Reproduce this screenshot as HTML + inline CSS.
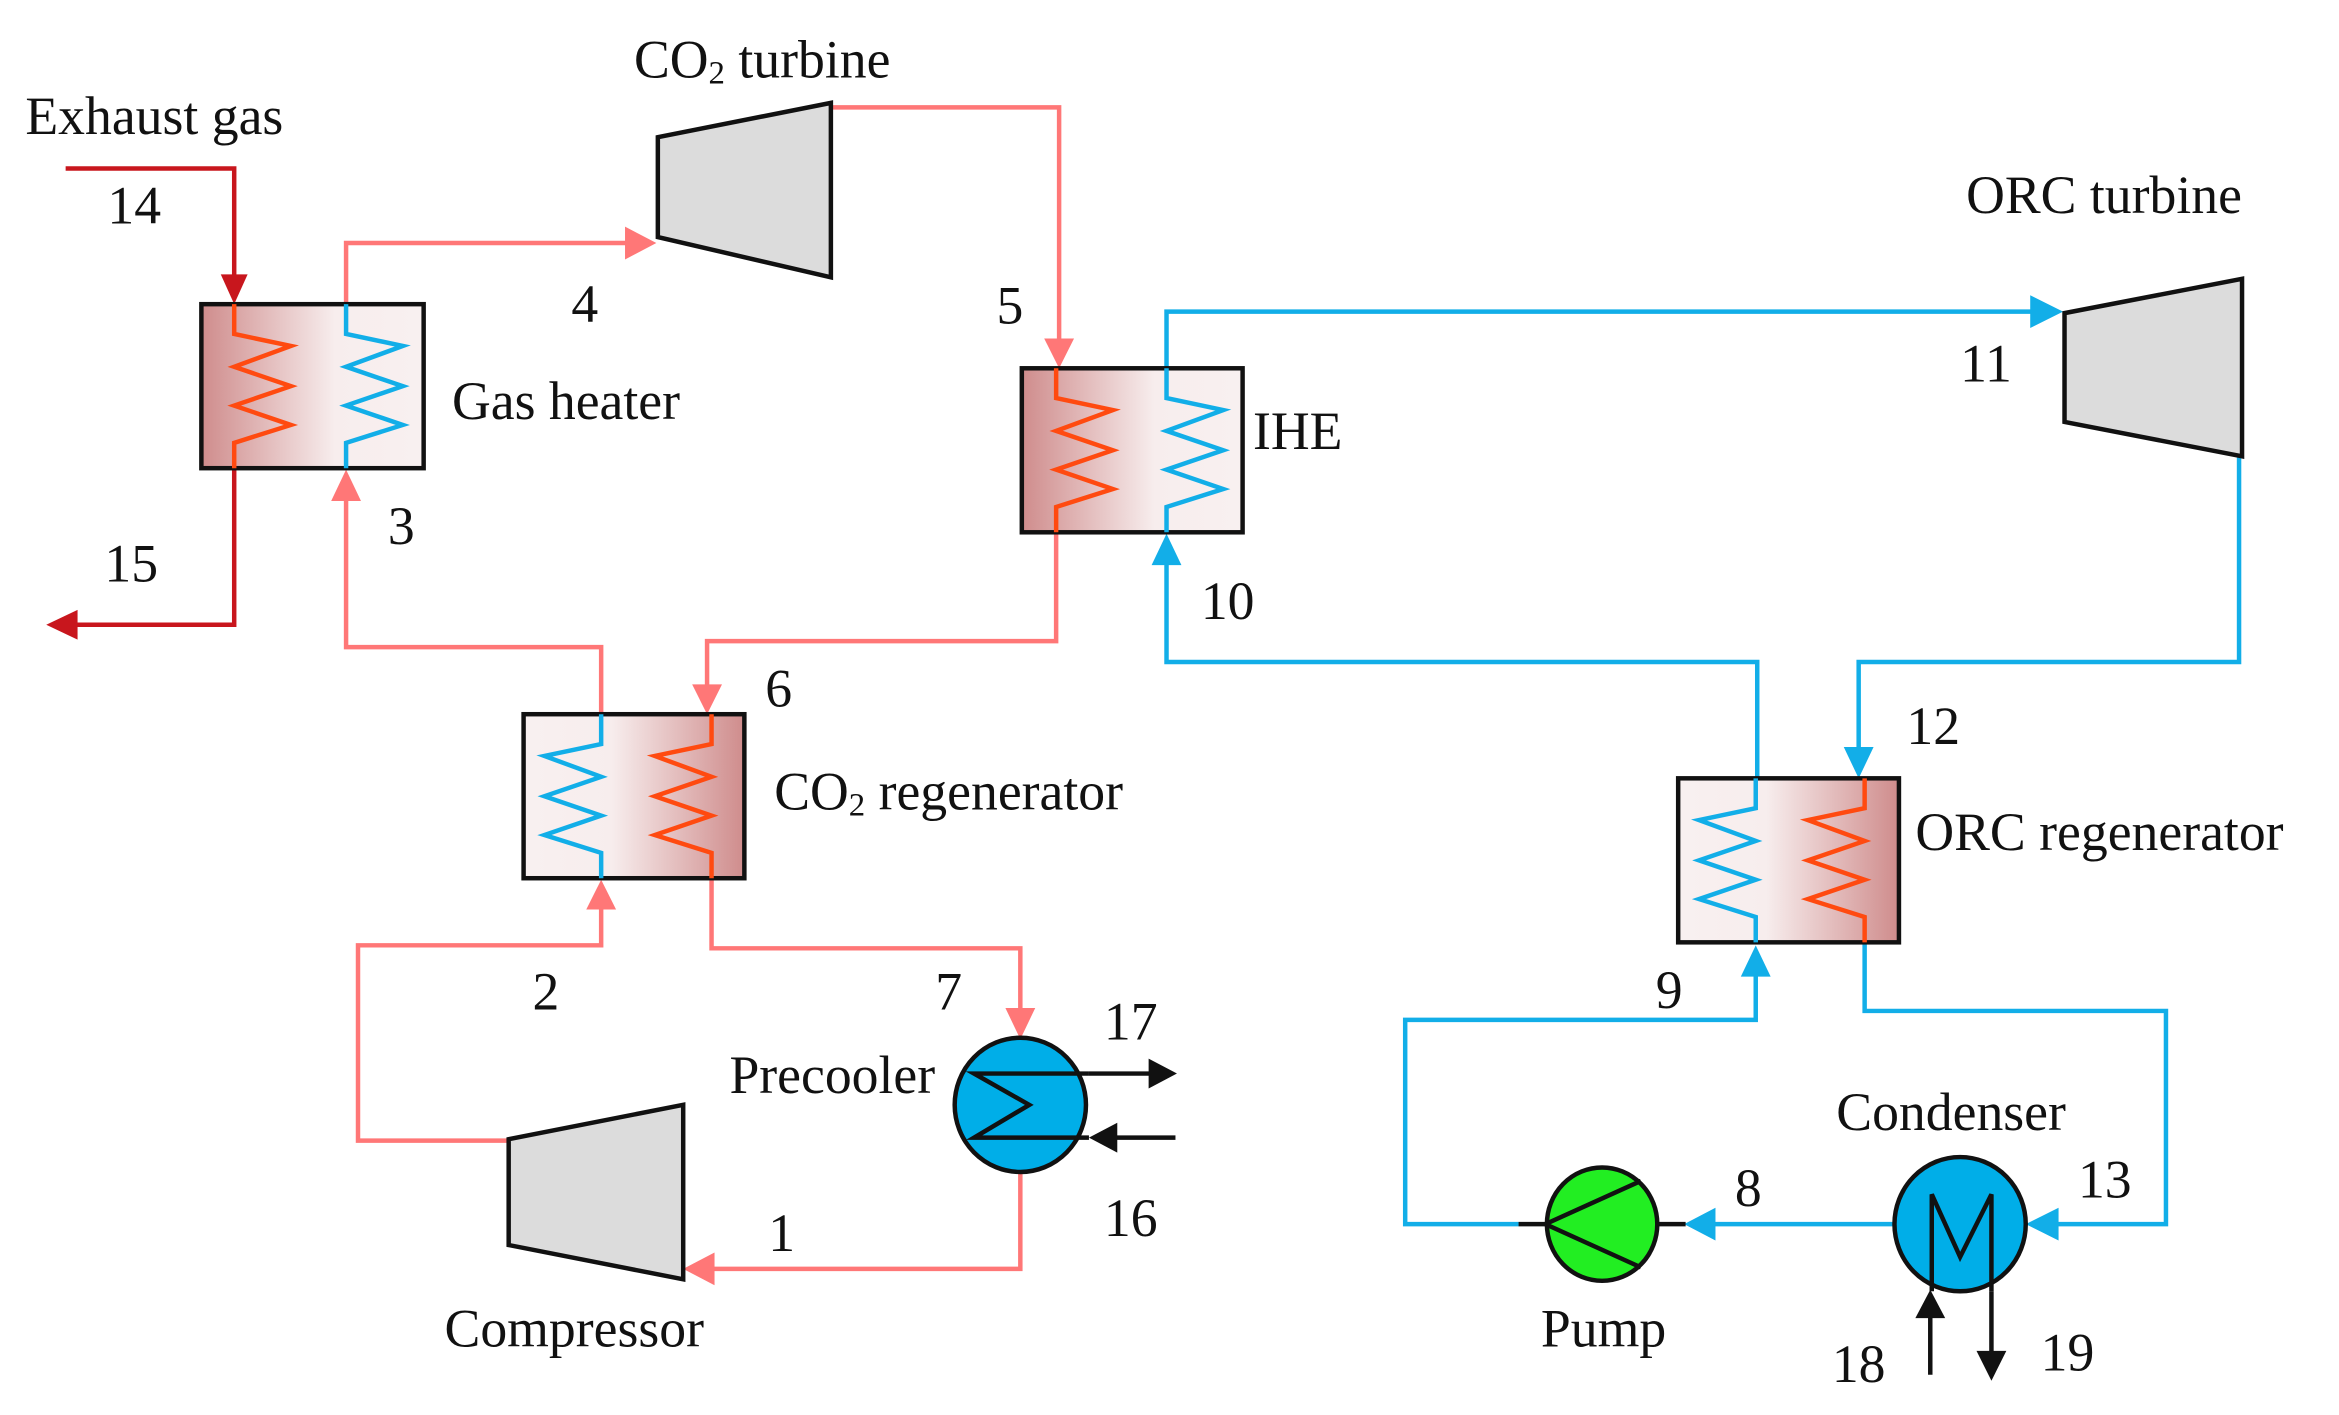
<!DOCTYPE html>
<html><head><meta charset="utf-8"><style>
html,body{margin:0;padding:0;background:#fff;}
svg{display:block;}
text{font-family:"Liberation Serif",serif;font-size:36px;fill:#111;}
</style></head><body>
<svg width="2339" height="1415" viewBox="0 0 1568 949" preserveAspectRatio="none" xmlns="http://www.w3.org/2000/svg">
<defs>
<linearGradient id="gl" x1="0" x2="1" y1="0" y2="0"><stop offset="0" stop-color="#cf8c8c"/><stop offset="0.6" stop-color="#f7eded"/><stop offset="1" stop-color="#f8f0f0"/></linearGradient>
<linearGradient id="gr" x1="1" x2="0" y1="0" y2="0"><stop offset="0" stop-color="#cf8c8c"/><stop offset="0.6" stop-color="#f7eded"/><stop offset="1" stop-color="#f8f0f0"/></linearGradient>
</defs>
<g fill="none" stroke-width="3">
<polyline points="44,113 157,113 157,190" stroke="#c8161d"/>
<polygon points="148,184 166,184 157,204" fill="#c8161d" stroke="none"/>
<polyline points="157,314 157,419 46,419" stroke="#c8161d"/>
<polygon points="52,409 52,429 31,419" fill="#c8161d" stroke="none"/>
<g stroke="#ff7777">
<polyline points="232,204 232,163 424,163"/>
<polyline points="557,72 710,72 710,232"/>
<polyline points="708,357 708,430 474,430 474,465"/>
<polyline points="403,479 403,434 232,434 232,330"/>
<polyline points="477,589 477,636 684,636 684,682"/>
<polyline points="684,786 684,851 474,851"/>
<polyline points="341,765 240,765 240,634 403,634 403,605"/>
</g>
<g fill="#ff7777" stroke="none">
<polygon points="419,152 419,174 440,163"/>
<polygon points="700,227 720,227 710,247"/>
<polygon points="464,459 484,459 474,479"/>
<polygon points="222,336 242,336 232,315"/>
<polygon points="674,676 694,676 684,697"/>
<polygon points="479,840 479,862 458,851"/>
<polygon points="393,610 413,610 403,590"/>
</g>
<g stroke="#12aee8">
<polyline points="782,247 782,209 1366,209"/>
<polyline points="1501,306 1501,444 1246,444 1246,506"/>
<polyline points="1178,522 1178,444 782,444 782,374"/>
<polyline points="1270,821 1144,821"/>
<polyline points="1018,821 942,821 942,684 1177,684 1177,650"/>
<polyline points="1250,632 1250,678 1452,678 1452,821 1374,821"/>
</g>
<g fill="#12aee8" stroke="none">
<polygon points="1361,198 1361,220 1383,209"/>
<polygon points="1236,501 1256,501 1246,522"/>
<polygon points="772,379 792,379 782,358"/>
<polygon points="1150,810 1150,832 1129,821"/>
<polygon points="1167,655 1187,655 1177,634"/>
<polygon points="1380,810 1380,832 1358,821"/>
</g>
<rect x="135" y="204" width="149" height="110" fill="url(#gl)" stroke="#111"/>
<rect x="685" y="247" width="148" height="110" fill="url(#gl)" stroke="#111"/>
<rect x="351" y="479" width="148" height="110" fill="url(#gr)" stroke="#111"/>
<rect x="1125" y="522" width="148" height="110" fill="url(#gr)" stroke="#111"/>
<g stroke-width="3">
<polyline stroke="#ff4a10" points="157,204 157,224 195,232 157,246 195,259 157,272 195,285 157,297 157,314"/>
<polyline stroke="#12aee8" points="232,204 232,224 270,232 232,246 270,259 232,272 270,285 232,297 232,314"/>
<polyline stroke="#ff4a10" points="708,247 708,267 746,275 708,289 746,302 708,315 746,328 708,340 708,357"/>
<polyline stroke="#12aee8" points="782,247 782,267 820,275 782,289 820,302 782,315 820,328 782,340 782,357"/>
<polyline stroke="#12aee8" points="403,479 403,499 365,507 403,521 365,534 403,547 365,560 403,572 403,589"/>
<polyline stroke="#ff4a10" points="477,479 477,499 439,507 477,521 439,534 477,547 439,560 477,572 477,589"/>
<polyline stroke="#12aee8" points="1177,522 1177,542 1139,550 1177,564 1139,577 1177,590 1139,603 1177,615 1177,632"/>
<polyline stroke="#ff4a10" points="1250,522 1250,542 1212,550 1250,564 1212,577 1250,590 1212,603 1250,615 1250,632"/>
</g>
<polygon points="441,92 557,69 557,186 441,159" fill="#dcdcdc" stroke="#111"/>
<polygon points="1384,210 1503,187 1503,306 1384,283" fill="#dcdcdc" stroke="#111"/>
<polygon points="341,764 458,741 458,858 341,835" fill="#dcdcdc" stroke="#111"/>
<ellipse cx="684" cy="741" rx="44" ry="45" fill="#00aee8" stroke="#111"/>
<polyline points="730,720 653,720 690,741 653,763 730,763" stroke="#111"/>
<line x1="730" y1="720" x2="775" y2="720" stroke="#111"/>
<polygon points="770,710 770,730 789,720" fill="#111" stroke="none"/>
<line x1="788" y1="763" x2="745" y2="763" stroke="#111"/>
<polygon points="749,753 749,773 730,763" fill="#111" stroke="none"/>
<ellipse cx="1074" cy="821" rx="37" ry="38" fill="#22ee22" stroke="#111"/>
<polyline points="1100,792 1036,821 1100,850" stroke="#111"/>
<line x1="1018" y1="821" x2="1037" y2="821" stroke="#111"/>
<line x1="1111" y1="821" x2="1130" y2="821" stroke="#111"/>
<ellipse cx="1314" cy="821" rx="44" ry="45" fill="#00aee8" stroke="#111"/>
<polyline points="1295,866 1295,801 1314,843 1335,801 1335,866" stroke="#111"/>
<line x1="1294" y1="922" x2="1294" y2="880" stroke="#111"/>
<polygon points="1284,884 1304,884 1294,865" fill="#111" stroke="none"/>
<line x1="1335" y1="866" x2="1335" y2="910" stroke="#111"/>
<polygon points="1325,906 1345,906 1335,926" fill="#111" stroke="none"/>
</g>
<text x="17" y="90">Exhaust gas</text>
<text x="72" y="150">14</text>
<text x="70" y="390">15</text>
<text x="425" y="52">CO<tspan font-size="22" dy="4">2</tspan><tspan dy="-4"> turbine</tspan></text>
<text x="383" y="216">4</text>
<text x="303" y="281">Gas heater</text>
<text x="260" y="365">3</text>
<text x="668" y="217">5</text>
<text x="840" y="301">IHE</text>
<text x="1318" y="143">ORC turbine</text>
<text x="1314" y="256">11</text>
<text x="805" y="415">10</text>
<text x="513" y="474">6</text>
<text x="519" y="543">CO<tspan font-size="22" dy="4">2</tspan><tspan dy="-4"> regenerator</tspan></text>
<text x="1278" y="499">12</text>
<text x="1284" y="570">ORC regenerator</text>
<text x="357" y="677">2</text>
<text x="627" y="677">7</text>
<text x="740" y="697">17</text>
<text x="489" y="733">Precooler</text>
<text x="740" y="829">16</text>
<text x="515" y="839">1</text>
<text x="298" y="903">Compressor</text>
<text x="1110" y="676">9</text>
<text x="1231" y="758">Condenser</text>
<text x="1163" y="809">8</text>
<text x="1393" y="803">13</text>
<text x="1033" y="903">Pump</text>
<text x="1228" y="927">18</text>
<text x="1368" y="919">19</text>
</svg>
</body></html>
